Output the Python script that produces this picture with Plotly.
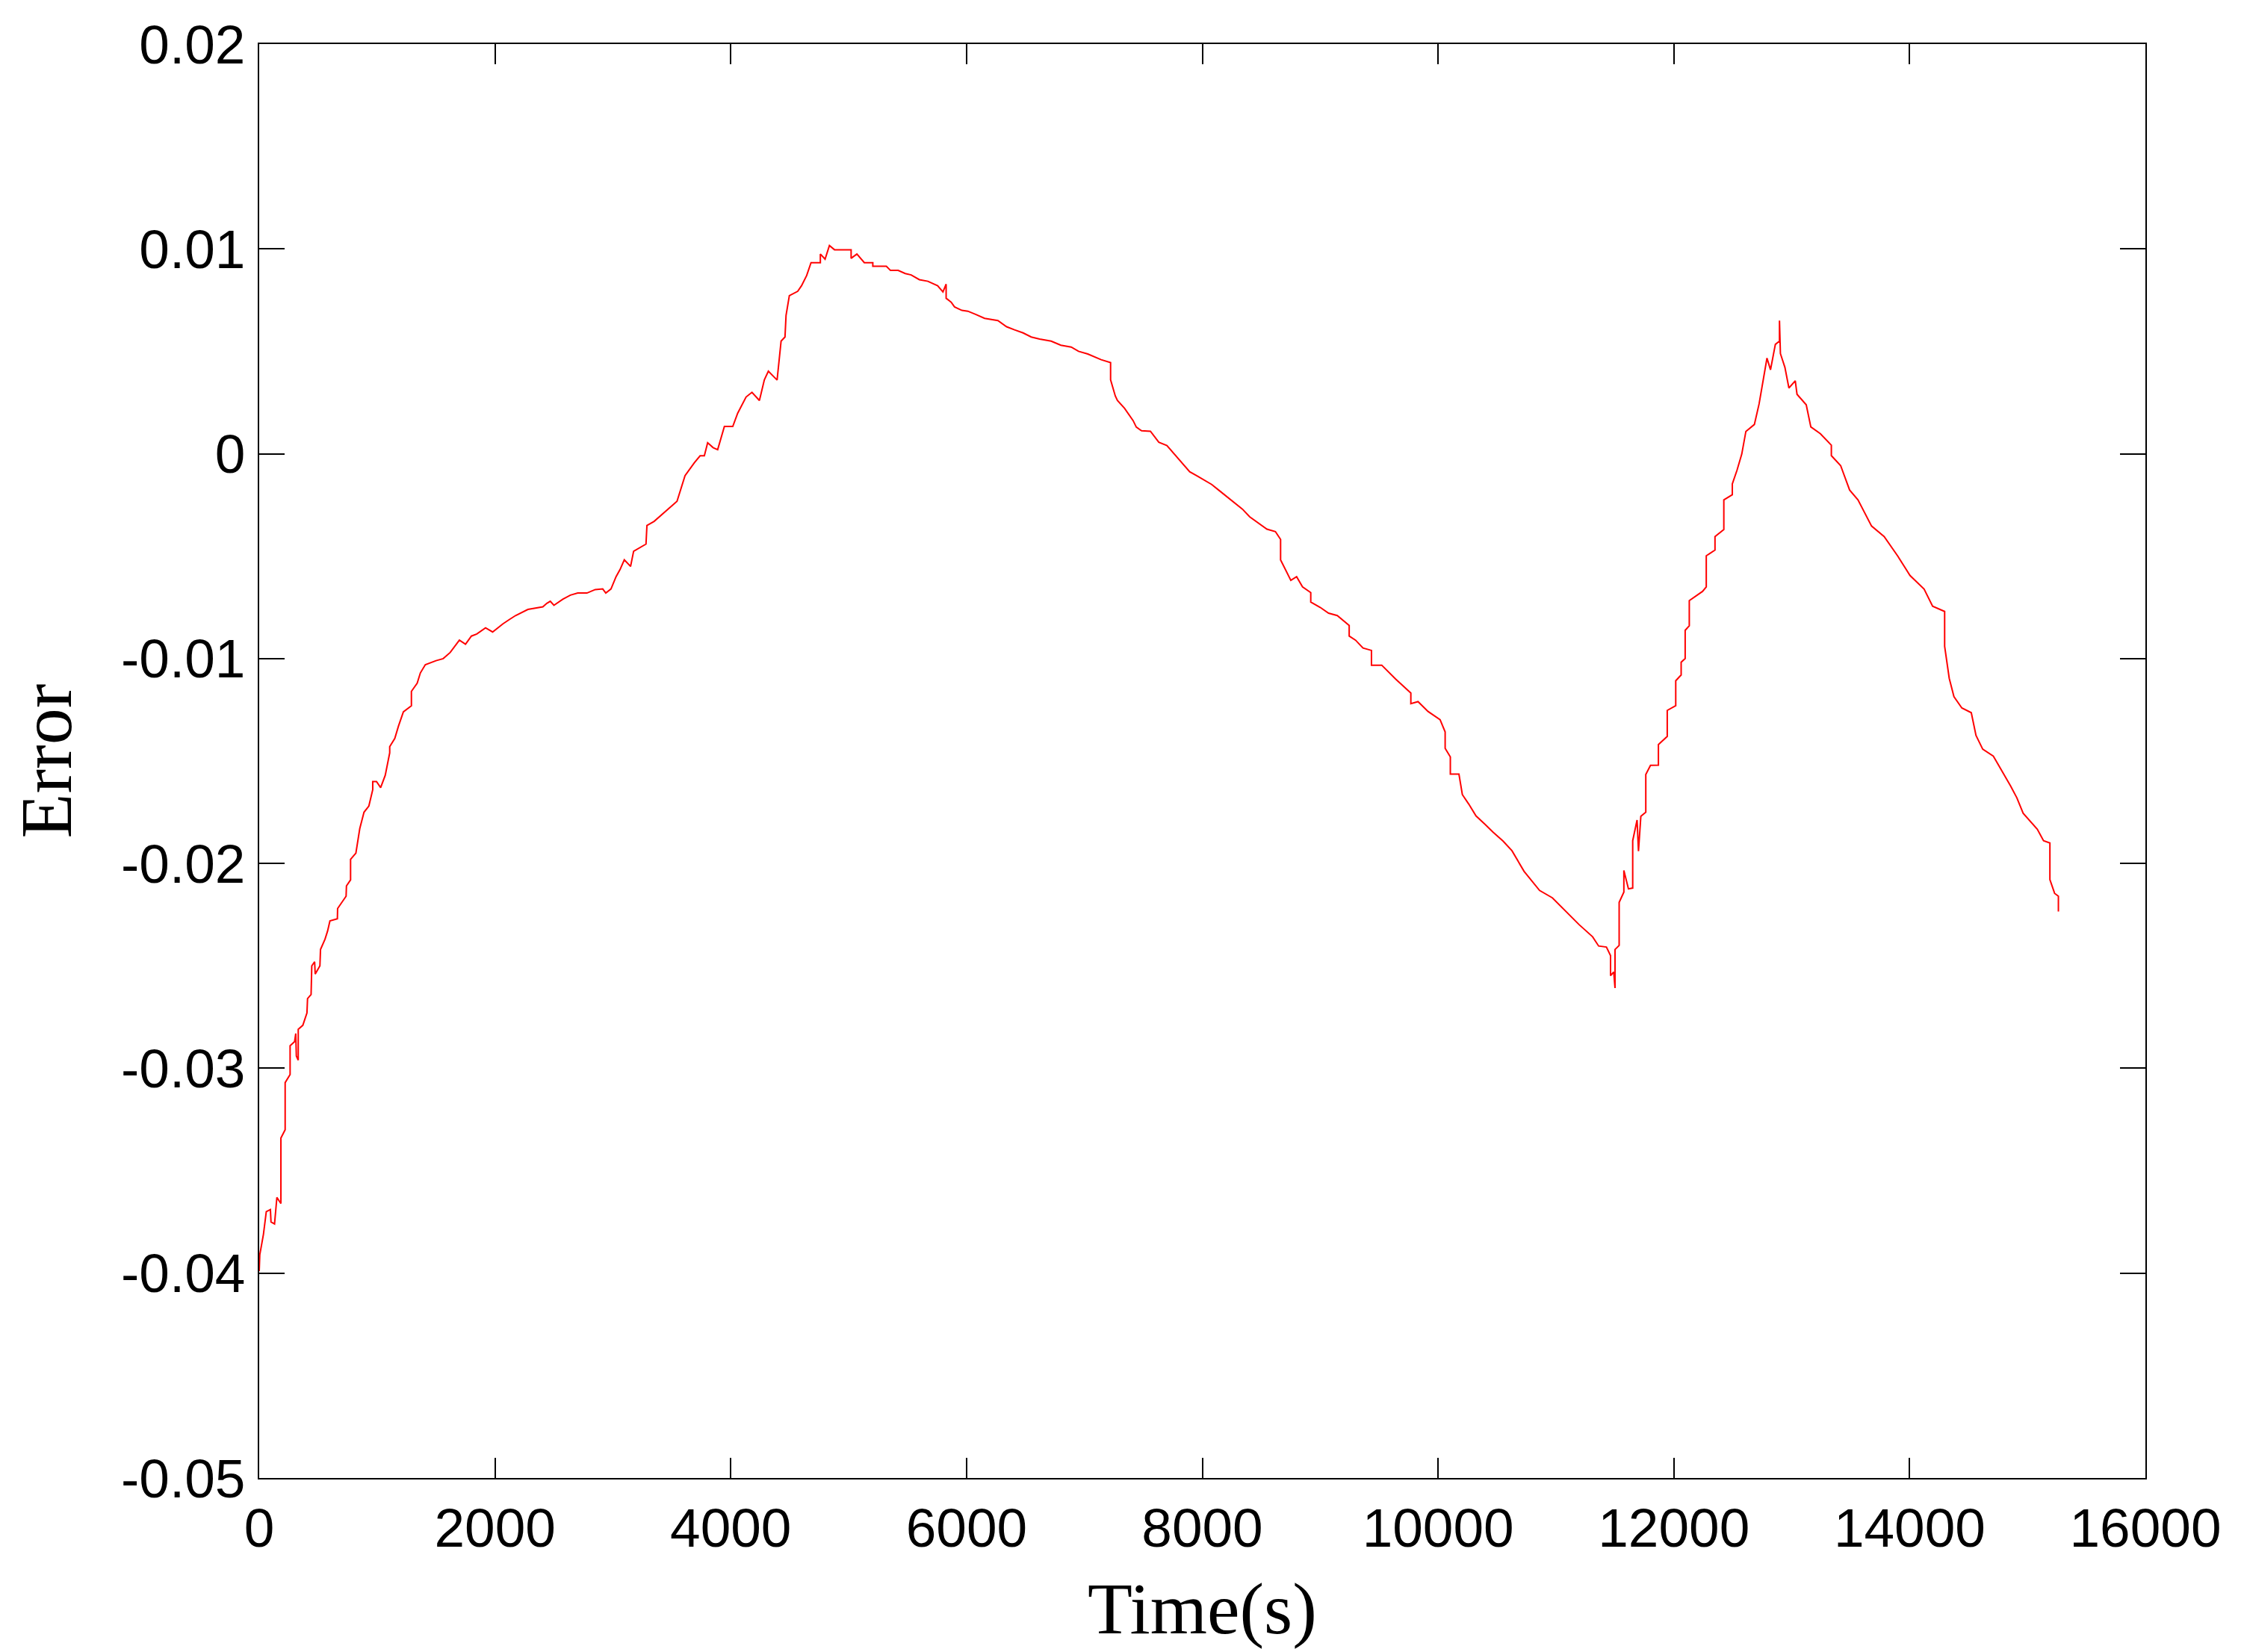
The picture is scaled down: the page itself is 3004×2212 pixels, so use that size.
import plotly.graph_objects as go

time_s = [
    0, 5, 36, 60, 95, 100, 130, 150, 184, 184, 220, 220, 262, 262, 300, 310, 315, 331, 331,
    370, 405, 410, 440, 446, 470, 475, 515, 520, 558, 580, 600, 663, 665, 737, 740, 775, 775,
    820, 853, 889, 930, 963, 963, 995, 1030, 1069, 1107, 1107, 1150, 1181, 1223, 1291, 1291,
    1340, 1367, 1409, 1500, 1561, 1620, 1662, 1698, 1750, 1800, 1846, 1920, 1980, 2068, 2120,
    2174, 2279, 2406, 2440, 2469, 2500, 2575, 2640, 2702, 2780, 2850, 2914, 2940, 2984, 3027,
    3061, 3097, 3150, 3176, 3281, 3289, 3350, 3465, 3544, 3612, 3691, 3740, 3776, 3804, 3850,
    3889, 3946, 4017, 4059, 4130, 4180, 4243, 4285, 4319, 4393, 4427, 4460, 4469, 4497, 4568,
    4600, 4644, 4681, 4760, 4760, 4800, 4837, 4880, 5021, 5021, 5070, 5133, 5205, 5205, 5320,
    5355, 5420, 5480, 5530, 5600, 5672, 5755, 5800, 5827, 5827, 5870, 5898, 5960, 6011, 6080,
    6153, 6266, 6340, 6407, 6480, 6549, 6620, 6718, 6800, 6888, 6950, 7029, 7142, 7222, 7222,
    7262, 7280, 7340, 7413, 7440, 7485, 7560, 7631, 7700, 7805, 7893, 7960, 8024, 8080, 8140,
    8210, 8286, 8340, 8402, 8480, 8548, 8620, 8664, 8664, 8720, 8751, 8800, 8850, 8920, 8920,
    9000, 9071, 9145, 9246, 9246, 9300, 9363, 9435, 9435, 9522, 9640, 9769, 9769, 9830, 9915,
    10017, 10060, 10060, 10104, 10104, 10177, 10206, 10260, 10322, 10400, 10468, 10550, 10627,
    10729, 10800, 10861, 10970, 11080, 11195, 11311, 11362, 11428, 11463, 11463, 11490, 11501,
    11501, 11536, 11536, 11576, 11576, 11615, 11651, 11651, 11688, 11700, 11720, 11762, 11762,
    11802, 11869, 11869, 11944, 11944, 12016, 12016, 12062, 12062, 12096, 12096, 12131, 12131,
    12243, 12275, 12275, 12349, 12349, 12424, 12424, 12496, 12496, 12536, 12576, 12611, 12683,
    12723, 12755, 12790, 12820, 12861, 12896, 12896, 12904, 12942, 12976, 13030, 13045, 13123,
    13162, 13243, 13336, 13336, 13415, 13491, 13562, 13677, 13784, 13900, 14003, 14123, 14195,
    14297, 14297, 14336, 14376, 14443, 14523, 14563, 14620, 14710, 14856, 14910, 14963, 15083,
    15136, 15190, 15190, 15230, 15262, 15262,
]
error = [
    -0.0399, -0.0391, -0.0381, -0.0370, -0.0369, -0.0375, -0.0376, -0.0363, -0.0366, -0.0334,
    -0.0330, -0.0307, -0.0303, -0.0289, -0.0287, -0.0283, -0.0294, -0.0296, -0.0281,
    -0.0279, -0.0273, -0.0266, -0.0264, -0.0250, -0.0248, -0.0254, -0.0250, -0.0242, -0.0237,
    -0.0233, -0.0228, -0.0227, -0.0222, -0.0216, -0.0211, -0.0208, -0.0198,
    -0.0195, -0.0183, -0.0175, -0.0172, -0.0164, -0.0160, -0.0160, -0.0163, -0.0157, -0.0146,
    -0.0143, -0.0139, -0.0133, -0.0126, -0.0123, -0.0116,
    -0.0112, -0.0107, -0.0103, -0.0101, -0.0100, -0.0097, -0.0094, -0.0091, -0.0093, -0.0089,
    -0.0088, -0.0085, -0.0087, -0.0083, -0.0081,
    -0.0079, -0.0076, -0.00747, -0.0073, -0.0072, -0.0074, -0.0071, -0.0069, -0.0068, -0.0068,
    -0.00663, -0.0066, -0.0068, -0.0066, -0.0060,
    -0.00565, -0.00518, -0.0055, -0.00476, -0.00441, -0.0035, -0.0033, -0.00274, -0.00232,
    -0.00107, -0.00044, -0.0001, -0.0001, 0.00054, 0.0003,
    0.0002, 0.00133, 0.00133, 0.00198, 0.00277, 0.0030, 0.0026, 0.00361, 0.00403, 0.0036,
    0.0055, 0.0057, 0.00675, 0.00772, 0.00793,
    0.0082, 0.0087, 0.00933, 0.00933, 0.00975, 0.0095, 0.01017, 0.00996, 0.00996, 0.00954,
    0.00975, 0.00933, 0.00933, 0.00915, 0.00915,
    0.00895, 0.00895, 0.0088, 0.00873, 0.0085, 0.00842, 0.0082, 0.0079, 0.00828, 0.00759,
    0.0074, 0.00717, 0.0070, 0.00696, 0.0068,
    0.00661, 0.0065, 0.0062, 0.00605, 0.0059, 0.0057, 0.0056, 0.0055, 0.0053, 0.00521, 0.0050,
    0.00487, 0.00459, 0.00445, 0.00361,
    0.00282, 0.0026, 0.00222, 0.00162, 0.0013, 0.00112, 0.0011, 0.00056, 0.0004, -0.00028,
    -0.00088, -0.0011, -0.00132, -0.0015, -0.00178,
    -0.0021, -0.00248, -0.0027, -0.00308, -0.0034, -0.00368, -0.0038, -0.00418, -0.00518,
    -0.0058, -0.00618, -0.0060, -0.0065, -0.00678, -0.00724,
    -0.0075, -0.00778, -0.0079, -0.00838, -0.0089, -0.0091, -0.00948, -0.0096, -0.01032,
    -0.01032, -0.0110, -0.01168, -0.0122, -0.0121, -0.01258,
    -0.01298, -0.01358, -0.01438, -0.0148, -0.01564, -0.01564, -0.01664, -0.0171, -0.01768,
    -0.0181, -0.01848, -0.0189, -0.01938,
    -0.02038, -0.0209, -0.02132, -0.02168, -0.0223, -0.02298, -0.02358, -0.02403, -0.02408,
    -0.0245, -0.02548, -0.0253, -0.02608,
    -0.0242, -0.0240, -0.0219, -0.0214, -0.02034, -0.02124, -0.0212, -0.01889, -0.01788,
    -0.0194, -0.0177, -0.0175, -0.01566,
    -0.01521, -0.0152, -0.0142, -0.0138, -0.01253, -0.0123, -0.01108, -0.0108, -0.01018,
    -0.0100, -0.00862, -0.0084, -0.00717,
    -0.00672, -0.0065, -0.00498, -0.0047, -0.00404, -0.0037, -0.00225, -0.0020, -0.00147,
    -0.0008, -0.00002, 0.00109, 0.00143,
    0.00243, 0.00344, 0.00467, 0.0041, 0.00534, 0.0055, 0.0065, 0.00489, 0.00422, 0.00321,
    0.00356, 0.0029, 0.00239,
    0.00131, 0.00098, 0.00042, -0.00009, -0.00058, -0.00177, -0.00225, -0.00353, -0.00404,
    -0.0050, -0.00594, -0.00661, -0.00744,
    -0.0077, -0.0094, -0.01096, -0.01186, -0.01241, -0.01264, -0.01375, -0.01442, -0.01476,
    -0.01621, -0.0168, -0.01755, -0.01833,
    -0.01889, -0.0190, -0.02079, -0.02146, -0.0216, -0.02235,
]

x_ticks = [0, 2000, 4000, 6000, 8000, 10000, 12000, 14000, 16000]
x_labels = ["0", "2000", "4000", "6000", "8000", "10000", "12000", "14000", "16000"]
y_ticks = [0.02, 0.01, 0, -0.01, -0.02, -0.03, -0.04, -0.05]
y_labels = ["0.02", "0.01", "0", "-0.01", "-0.02", "-0.03", "-0.04", "-0.05"]

tick_font = dict(family="Liberation Sans, Arial", size=73, color="black")
title_font = dict(family="Liberation Serif, Times New Roman", size=98, color="black")

fig = go.Figure()
fig.add_trace(go.Scatter(
    x=time_s, y=error, mode="lines",
    line=dict(color="#ff0000", width=2),
    showlegend=False,
))

axis_common = dict(
    showline=True, linecolor="black", linewidth=2, mirror="ticks",
    ticks="inside", tickcolor="black", tickwidth=2,
    showgrid=False, zeroline=False, tickfont=tick_font,
)
fig.update_xaxes(
    range=[0, 16000], tickvals=x_ticks, ticktext=x_labels, ticklen=27,
    ticklabelstandoff=2,
    title=dict(text="Time(s)", font=title_font, standoff=34),
    **axis_common,
)
fig.update_yaxes(
    range=[-0.05, 0.02], tickvals=y_ticks, ticktext=y_labels, ticklen=34,
    ticklabelstandoff=2,
    title=dict(text="Error", font=title_font, standoff=74),
    **axis_common,
)
# page body adds an 8px margin, so the figure is trimmed by that much
fig.update_layout(
    width=2996, height=2204,
    margin=dict(l=339, r=132, t=51, b=233),
    plot_bgcolor="white", paper_bgcolor="white",
)
fig.write_html("out.html")
